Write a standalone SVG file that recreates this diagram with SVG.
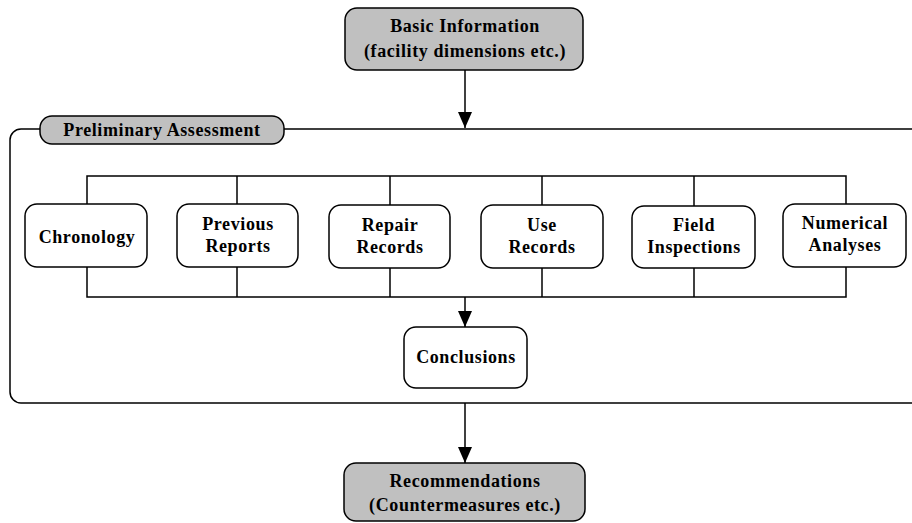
<svg xmlns="http://www.w3.org/2000/svg" width="912" height="523" viewBox="0 0 912 523">
<defs>
<marker id="arr" viewBox="0 0 16 14" refX="16" refY="7" markerWidth="16" markerHeight="14" markerUnits="userSpaceOnUse" orient="auto">
<path d="M0,0 L16,7 L0,14 Z" fill="#000"/>
</marker>
<style>
.box{fill:#fff;stroke:#000;stroke-width:1.5}
.gray{fill:#c0c0c0;stroke:#000;stroke-width:1.5}
.ln{fill:none;stroke:#000;stroke-width:1.5}
text{font-family:"Liberation Serif","Times New Roman",serif;font-weight:bold;font-size:18px;letter-spacing:0.6px;text-anchor:middle;fill:#000}
</style>
</defs>
<rect width="912" height="523" fill="#fff"/>
<g id="frame">
<rect x="10" y="129" width="930" height="274" rx="11" class="ln"/>
</g>
<g id="connectors">
<line x1="465" y1="70" x2="465" y2="128" class="ln" marker-end="url(#arr)"/>
<polyline points="87,204 87,176 846,176 846,204" class="ln"/>
<line x1="237" y1="176" x2="237" y2="204" class="ln"/>
<line x1="390" y1="176" x2="390" y2="205" class="ln"/>
<line x1="542" y1="176" x2="542" y2="205" class="ln"/>
<line x1="694" y1="176" x2="694" y2="206" class="ln"/>
<polyline points="87,267 87,297 846,297 846,267" class="ln"/>
<line x1="237" y1="267" x2="237" y2="297" class="ln"/>
<line x1="390" y1="268" x2="390" y2="297" class="ln"/>
<line x1="542" y1="268" x2="542" y2="297" class="ln"/>
<line x1="694" y1="268" x2="694" y2="297" class="ln"/>
<line x1="465" y1="297" x2="465" y2="327" class="ln" marker-end="url(#arr)"/>
<line x1="465" y1="403" x2="465" y2="463" class="ln" marker-end="url(#arr)"/>
</g>
<g id="basic">
<rect x="345" y="8" width="238" height="62" rx="12" class="gray"/>
<text x="465" y="32">Basic Information</text>
<text x="465" y="57">(facility dimensions etc.)</text>
</g>
<g id="prelim">
<rect x="40" y="116" width="244" height="28" rx="12" class="gray"/>
<text x="162" y="136">Preliminary Assessment</text>
</g>
<g id="chronology">
<rect x="25" y="204" width="122" height="63" rx="12" class="box"/>
<text x="87" y="243">Chronology</text>
</g>
<g id="previous">
<rect x="177" y="204" width="121" height="63" rx="12" class="box"/>
<text x="238" y="230">Previous</text>
<text x="238" y="252">Reports</text>
</g>
<g id="repair">
<rect x="329" y="205" width="121" height="63" rx="12" class="box"/>
<text x="390" y="231">Repair</text>
<text x="390" y="253">Records</text>
</g>
<g id="use">
<rect x="481" y="205" width="122" height="63" rx="12" class="box"/>
<text x="542" y="231">Use</text>
<text x="542" y="253">Records</text>
</g>
<g id="field">
<rect x="632" y="206" width="123" height="62" rx="12" class="box"/>
<text x="694" y="231">Field</text>
<text x="694" y="253">Inspections</text>
</g>
<g id="numerical">
<rect x="783" y="204" width="123" height="63" rx="12" class="box"/>
<text x="845" y="229">Numerical</text>
<text x="845" y="251">Analyses</text>
</g>
<g id="conclusions">
<rect x="404" y="327" width="123" height="61" rx="12" class="box"/>
<text x="466" y="363">Conclusions</text>
</g>
<g id="recommendations">
<rect x="344" y="463" width="241" height="58" rx="12" class="gray"/>
<text x="465" y="487">Recommendations</text>
<text x="465" y="511">(Countermeasures etc.)</text>
</g>
</svg>
